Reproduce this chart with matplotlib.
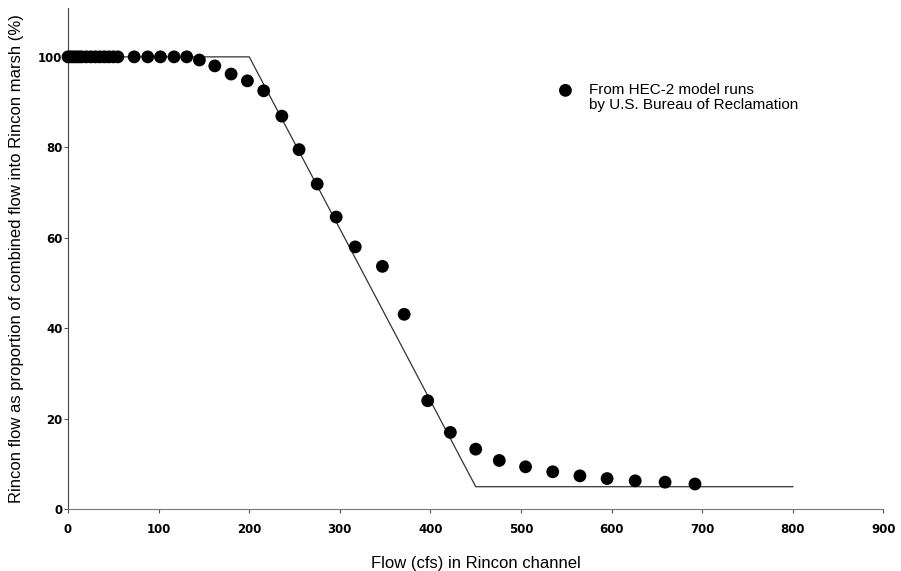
import matplotlib.pyplot as plt

# HEC-2 model run points (flow in cfs, % of combined flow into Rincon marsh)
flow_pts = [0, 3, 6, 9, 12, 15, 20, 25, 30, 35, 40, 45, 50, 55,
            73, 88, 102, 117, 131, 145, 162, 180, 198, 216, 236, 255,
            275, 296, 317, 347, 371, 397, 422, 450, 476, 505, 535,
            565, 595, 626, 659, 692]
pct_pts = [100, 100, 100, 100, 100, 100, 100, 100, 100, 100, 100, 100, 100, 100,
           100, 100, 100, 100, 100, 99.3, 98.0, 96.2, 94.7, 92.5, 86.9, 79.5,
           71.9, 64.6, 58.0, 53.7, 43.1, 24.0, 17.0, 13.3, 10.8, 9.4, 8.3,
           7.4, 6.8, 6.3, 6.0, 5.6]

# fitted relationship
line_flow = [0, 200, 450, 800]
line_pct = [100, 100, 5, 5]

plt.rcParams["font.family"] = ["Liberation Sans", "DejaVu Sans"]

fig = plt.figure(figsize=(9.01, 5.71), dpi=100)
ax = fig.add_axes([0.0755, 0.108, 0.905, 0.878])

ax.plot(line_flow, line_pct, color="#333333", linewidth=0.9, zorder=2)
ax.scatter(flow_pts, pct_pts, s=85, color="black", edgecolors="none",
           zorder=3, clip_on=False)

# legend
ax.scatter([549], [92.6], s=85, color="black", edgecolors="none")
ax.text(575, 92.6, "From HEC-2 model runs", fontsize=11, va="center", ha="left")
ax.text(575, 89.3, "by U.S. Bureau of Reclamation", fontsize=11, va="center", ha="left")

ax.set_xlim(0, 900)
ax.set_ylim(0, 110.8)
ax.set_xticks(range(0, 901, 100))
ax.set_yticks(range(0, 101, 20))

for lab in ax.get_xticklabels() + ax.get_yticklabels():
    lab.set_fontweight("bold")
    lab.set_family("DejaVu Sans")
    lab.set_fontsize(8.5)

ax.tick_params(axis="x", direction="out", length=3, pad=7, color="#555555")
ax.tick_params(axis="y", direction="out", length=3, pad=1, color="#555555")

ax.spines["top"].set_visible(False)
ax.spines["right"].set_visible(False)
ax.spines["left"].set_color("#444444")
ax.spines["bottom"].set_color("#777777")

ax.set_xlabel("Flow (cfs) in Rincon channel", fontsize=12, labelpad=14)
ax.set_ylabel("Rincon flow as proportion of combined flow into Rincon marsh (%)",
              fontsize=12, labelpad=10)

fig.savefig("out.png", dpi=100)
